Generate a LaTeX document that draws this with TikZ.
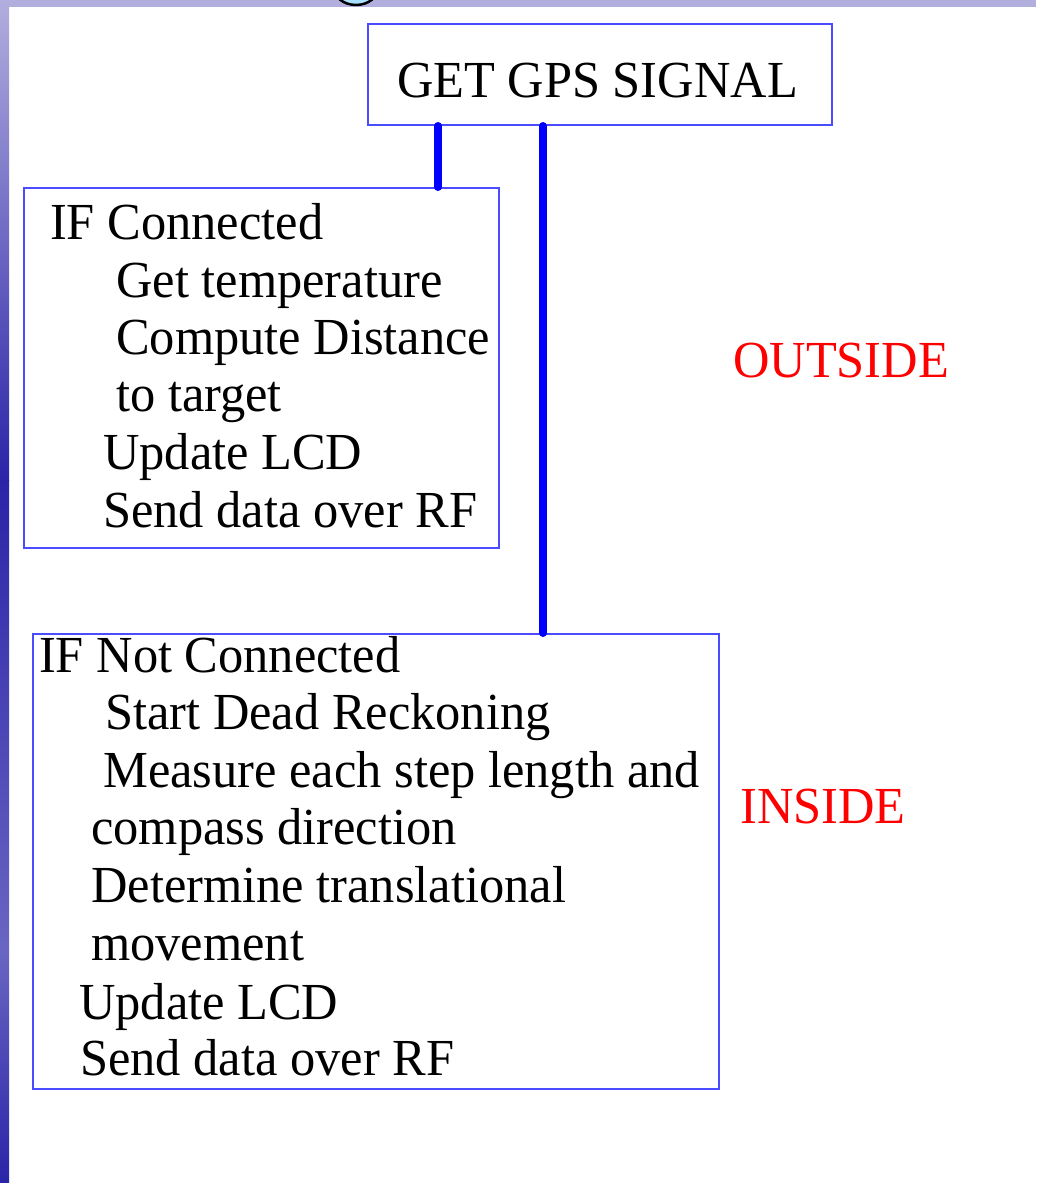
\documentclass[tikz,border=0pt]{standalone}
\usepackage{fontspec}
\setmainfont{Liberation Serif}[FakeStretch=0.97]
\usetikzlibrary{positioning}

\definecolor{boxblue}{RGB}{75,75,255}
\definecolor{slidetop}{RGB}{178,174,222}
\definecolor{slidedark}{RGB}{42,36,168}
\definecolor{bulbcyan}{RGB}{170,224,255}

\begin{document}
\begin{tikzpicture}[x=1pt,y=-1pt,
    stepbox/.style={draw=boxblue, line width=2pt, inner sep=0pt, anchor=north west},
    link/.style={draw=blue, line width=8pt, line cap=round},
    rowtext/.style={anchor=base west, inner sep=0pt, font=\fontsize{52}{58}\selectfont},
    zone/.style={rowtext, text=red}]

\useasboundingbox (0,0) rectangle (1036,1183);
\fill[white] (0,0) rectangle (1036,1183);

% slide background edges
\fill[slidetop] (0,0) rectangle (1036,7);
\shade[top color=slidetop, bottom color=slidedark] (0,0) rectangle (9,480);
\shade[top color=slidedark, bottom color=slidedark!70!white] (0,480) rectangle (9,950);
\shade[top color=slidedark!70!white, bottom color=slidedark] (0,950) rectangle (9,1183);
\begin{scope}
  \clip (0,0) rectangle (1036,7);
  \draw[fill=bulbcyan, line width=2.5pt] (356,-14) ellipse (23 and 19);
\end{scope}

% boxes
\node[stepbox, minimum width=464, minimum height=101] (gps) at (367,23) {};
\node[stepbox, minimum width=475, minimum height=360] (conn) at (23,187) {};
\node[stepbox, minimum width=686, minimum height=455] (lost) at (32,633) {};

\node[rowtext] (gpstext) at (397,97) {GET GPS SIGNAL};

% connected branch
\foreach \x/\y/\t [count=\i] in {50/239/IF Connected, 116/297/Get temperature,
    116/354/Compute Distance, 116/411/to target, 103/469/Update LCD,
    103/527/Send data over RF}
  \node[rowtext] (conn\i) at (\x,\y) {\t};

% not connected branch
\foreach \x/\y/\t [count=\i] in {39/672/IF Not Connected, 105/729/Start Dead Reckoning,
    103/787/Measure each step length and, 91/844/compass direction,
    91/902/Determine translational, 91/960/movement, 79/1019/Update LCD,
    80/1075/Send data over RF}
  \node[rowtext] (lost\i) at (\x,\y) {\t};

\node[zone] (outside) at (733,377) {OUTSIDE};
\node[zone] (inside) at (740,823) {INSIDE};

% connectors
\draw[link] ([xshift=71pt]gps.south west) -- ([xshift=71pt]gps.south west |- conn.north);
\draw[link] ([xshift=176pt]gps.south west) -- ([xshift=176pt]gps.south west |- lost.north);
\end{tikzpicture}
\end{document}
